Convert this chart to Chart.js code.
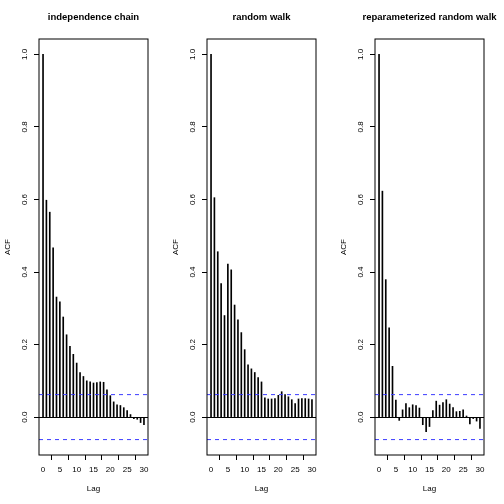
<!DOCTYPE html>
<html>
<head>
<meta charset="utf-8">
<script src="https://cdn.jsdelivr.net/npm/chart.js@4.4.1/dist/chart.umd.min.js"></script>
<style>
  html, body { margin: 0; padding: 0; background: #fff; }
  #wrap { position: relative; width: 504px; height: 504px; }
  .panel { position: absolute; top: 0; width: 168px; height: 504px; }
</style>
</head>
<body>
<div id="wrap">
  <div class="panel" style="left:0"><canvas id="c0"></canvas></div>
  <div class="panel" style="left:168px"><canvas id="c1"></canvas></div>
  <div class="panel" style="left:336px"><canvas id="c2"></canvas></div>
</div>
<script>
const titles = ['independence chain', 'random walk', 'reparameterized random walk'];
const lags = [0, 1, 2, 3, 4, 5, 6, 7, 8, 9, 10, 11, 12, 13, 14, 15, 16, 17, 18, 19, 20,
              21, 22, 23, 24, 25, 26, 27, 28, 29, 30];

const acfIndep = [1.0, 0.598, 0.565, 0.467, 0.331, 0.318, 0.276, 0.227, 0.195, 0.173, 0.149,
                  0.123, 0.112, 0.100, 0.097, 0.094, 0.095, 0.097, 0.096, 0.075, 0.059,
                  0.042, 0.034, 0.032, 0.026, 0.018, 0.007, -0.004, -0.006, -0.015, -0.021];
const acfWalk = [1.0, 0.605, 0.456, 0.368, 0.280, 0.422, 0.406, 0.309, 0.268, 0.233, 0.186,
                 0.144, 0.133, 0.123, 0.109, 0.097, 0.053, 0.050, 0.050, 0.051, 0.060,
                 0.070, 0.062, 0.056, 0.048, 0.037, 0.050, 0.051, 0.051, 0.050, 0.048];
const acfRepar = [1.0, 0.623, 0.379, 0.246, 0.140, 0.047, -0.009, 0.020, 0.037, 0.026, 0.034,
                  0.032, 0.025, -0.021, -0.040, -0.026, 0.018, 0.044, 0.033, 0.040, 0.048,
                  0.036, 0.026, 0.015, 0.016, 0.020, 0.003, -0.019, -0.004, -0.011, -0.031];
const series = [acfIndep, acfWalk, acfRepar];

const confLimit = 0.062;
const xRange = [-1.2, 31.2];
const yRange = [-0.1045, 1.0425];
const xTicks = [0, 5, 10, 15, 20, 25, 30];
const yTicks = [0.0, 0.2, 0.4, 0.6, 0.8, 1.0];

const FONT = 'Liberation Sans, Arial, Helvetica, sans-serif';

// zero line, box and a title that may overflow the panel (like R)
const acfDecor = {
  id: 'acfDecor',
  beforeDatasetsDraw(chart) {
    const { ctx, chartArea: a, scales: { y } } = chart;
    ctx.save();
    ctx.fillStyle = '#000';
    ctx.fillRect(a.left, Math.round(y.getPixelForValue(0)), a.right - a.left, 1);
    ctx.restore();
  },
  afterDraw(chart) {
    const { ctx, chartArea: a } = chart;
    ctx.save();
    ctx.strokeStyle = '#000';
    ctx.lineWidth = 1;
    ctx.strokeRect(a.left, a.top, a.right - a.left, a.bottom - a.top);
    ctx.fillStyle = '#000';
    ctx.font = 'bold 9.5px ' + FONT;
    ctx.textAlign = 'center';
    ctx.textBaseline = 'middle';
    ctx.fillText(chart.options.plugins.acfDecor.title, (a.left + a.right) / 2, 17);
    ctx.restore();
  }
};

const band = v => ({
  type: 'line',
  data: xRange.map(x => ({ x: x, y: v })),
  borderColor: '#3c3cff',
  borderWidth: 1,
  borderDash: [4, 4],
  pointRadius: 0,
  fill: false,
  order: 0
});

series.forEach((vals, i) => {
  new Chart(document.getElementById('c' + i), {
    type: 'bar',
    data: {
      datasets: [
        {
          data: lags.map((l, k) => ({ x: l, y: vals[k] })),
          backgroundColor: '#000',
          barThickness: 1,
          borderWidth: 0,
          order: 1
        },
        band(confLimit),
        band(-confLimit)
      ]
    },
    options: {
      responsive: true,
      maintainAspectRatio: false,
      animation: false,
      layout: { padding: { right: 20, top: 39, left: 0, bottom: 0 } },
      plugins: {
        legend: { display: false },
        tooltip: { enabled: false },
        title: { display: false },
        acfDecor: { title: titles[i] }
      },
      scales: {
        x: {
          type: 'linear',
          min: xRange[0],
          max: xRange[1],
          offset: false,
          afterBuildTicks: s => { s.ticks = xTicks.map(v => ({ value: v })); },
          afterFit: s => { s.height = 49; },
          grid: { drawOnChartArea: false, tickLength: 5, color: '#000' },
          border: { display: false },
          ticks: { color: '#000', padding: 5, font: { family: FONT, size: 8 }, maxRotation: 0, autoSkip: false },
          title: { display: true, text: 'Lag', color: '#000', font: { family: FONT, size: 8 }, padding: { bottom: 10 } }
        },
        y: {
          min: yRange[0],
          max: yRange[1],
          afterBuildTicks: s => { s.ticks = yTicks.map(v => ({ value: v })); },
          afterFit: s => { s.width = 39; },
          grid: { drawOnChartArea: false, tickLength: 5, color: '#000' },
          border: { display: false },
          ticks: {
            color: '#000',
            padding: 3.5,
            crossAlign: 'center',
            minRotation: 90,
            maxRotation: 90,
            font: { family: FONT, size: 8 },
            callback: v => v.toFixed(1)
          },
          title: { display: true, text: 'ACF', color: '#000', font: { family: FONT, size: 8 }, padding: { top: 3 } }
        }
      }
    },
    plugins: [acfDecor]
  });
});
</script>
</body>
</html>
